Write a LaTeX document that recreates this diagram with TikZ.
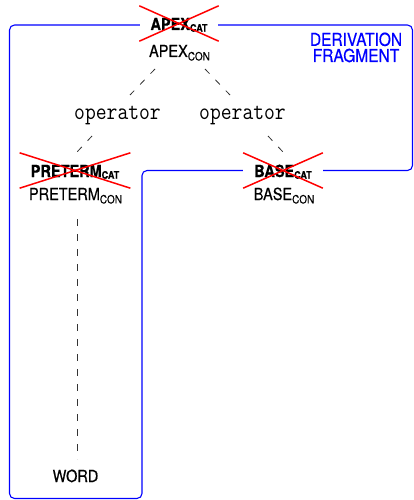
\documentclass[tikz,border=0pt]{standalone}
\usepackage{fontspec}
\usepackage{graphicx}
\setmainfont{TeX Gyre Heros}[FakeBold=0.6]
\usetikzlibrary{calc}

% labels are set slightly taller than wide
\newcommand\tall[1]{\scalebox{1}[1.15]{#1}}
\newcommand\catsub[1]{\raisebox{-1.5pt}{\fontsize{9}{9}\selectfont #1}}
\newcommand\consub[1]{\raisebox{-3pt}{\fontsize{10}{10}\selectfont #1}}

\definecolor{frameblue}{RGB}{0,0,255}
\definecolor{strikered}{RGB}{255,0,0}

\tikzset{
  catnode/.style={anchor=base, fill=white, inner xsep=11pt, inner ysep=11pt,
    text height=13pt, text depth=0pt, font=\bfseries\fontsize{14.5}{16}\selectfont},
  connode/.style={anchor=base, inner sep=0pt, font=\fontsize{14.5}{16}\selectfont},
  opnode/.style={anchor=base, inner sep=0pt, font=\ttfamily\fontsize{21}{24}\selectfont},
  tree/.style={draw=black!80, line width=0.8pt, dash pattern=on 6.5pt off 8.5pt},
  frame/.style={draw=frameblue, line width=1.1pt, rounded corners=5pt},
  strike/.style={draw=strikered, line width=1.5pt},
}

\begin{document}
\begin{tikzpicture}[x=1pt, y=-1pt]
\useasboundingbox (0,0) rectangle (414,500);

% fragment outline
\draw[frame] (100,25) -- (412.5,25) -- (412.5,170.5) -- (142,170.5)
  -- (142,498.5) -- (9.5,498.5) -- (9.5,25) -- cycle;

% caption of the outlined region (base anchor sits on the last line)
\node[align=center, inner sep=0pt, anchor=base, text=frameblue,
      font=\fontsize{15.5}{11}\selectfont] (frag) at (356,62)
  {\tall{DERIVATION}\\[1.5pt]\tall{FRAGMENT}};

% tree nodes
\node[catnode] (apexcat) at (179,30) {\tall{APEX\catsub{CAT}}};
\node[connode] (apexcon) at (179.5,57) {\tall{APEX\consub{CON}}};

\node[opnode] (opl) at (117.5,119) {\tall{operator}};
\node[opnode] (opr) at (242.5,119) {\tall{operator}};

\node[catnode] (pretermcat) at (75,177) {\tall{PRETERM\catsub{CAT}}};
\node[connode] (pretermcon) at (75.5,200) {\tall{PRETERM\consub{CON}}};

\node[catnode] (basecat) at (283,177) {\tall{BASE\catsub{CAT}}};
\node[connode] (basecon) at (284,200) {\tall{BASE\consub{CON}}};

\node[connode] (word) at (75.5,482) {\tall{WORD}};

% crossed-out categories
\foreach \n in {apexcat,pretermcat,basecat}
  \draw[strike] (\n.north west) -- (\n.south east)
                (\n.south west) -- (\n.north east);

% tree edges
\draw[tree] ($(apexcon.base)+(-24.5,12)$) -- ($(opl.base)+(12.5,-24)$);
\draw[tree] ($(apexcon.base)+(25.5,12)$) -- ($(opr.base)+(-12.5,-24)$);
\draw[tree] ($(opl.base)+(-25.5,17)$) -- ($(pretermcat.base)+(2,-25)$);
\draw[tree] ($(opr.base)+(25.5,17)$) -- ($(basecat.base)+(0,-25)$);
\draw[tree] ($(pretermcon.base)+(1.5,19)$) -- ($(word.base)+(1.5,-23)$);
\end{tikzpicture}
\end{document}
